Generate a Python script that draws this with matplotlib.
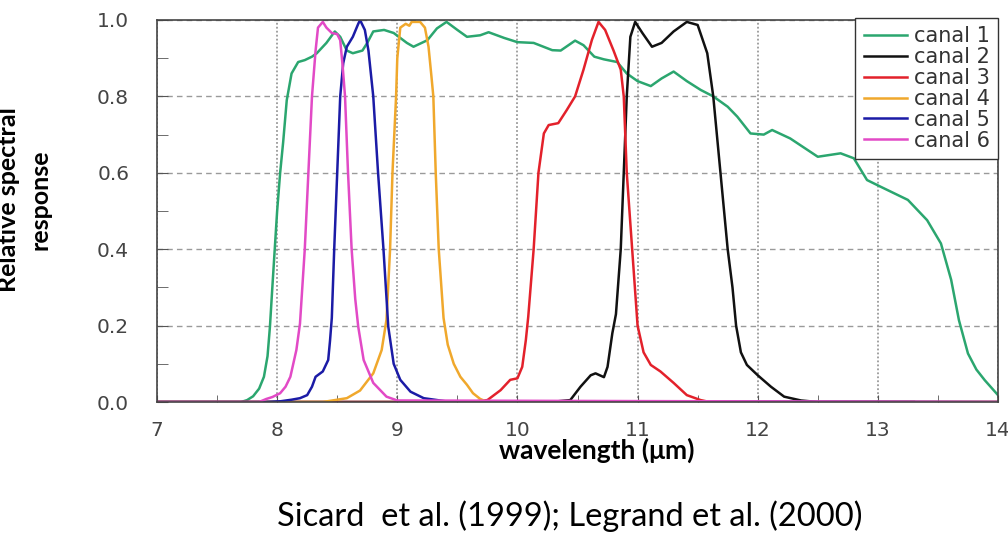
import matplotlib
matplotlib.use("Agg")
import matplotlib.pyplot as plt
from matplotlib.ticker import MultipleLocator, FormatStrFormatter

# ==========================
# DATA
# ==========================

canal1_x = [7.0, 7.70, 7.75, 7.80, 7.85, 7.89, 7.92, 7.94, 7.96, 7.98, 8.00, 8.025, 8.05,
            8.08, 8.12, 8.175, 8.23, 8.29, 8.33, 8.41, 8.48, 8.525, 8.58, 8.63, 8.71, 8.75,
            8.80, 8.89, 8.97, 9.08, 9.135, 9.25, 9.33, 9.41, 9.50, 9.58, 9.69, 9.76, 9.89,
            10.0, 10.135, 10.29, 10.36, 10.48, 10.55, 10.64, 10.72, 10.83, 10.91, 11.0,
            11.11, 11.2, 11.3, 11.41, 11.525, 11.63, 11.75, 11.83, 11.94, 12.05, 12.12,
            12.27, 12.5, 12.69, 12.8, 12.91, 13.02, 13.25, 13.41, 13.525, 13.61, 13.675,
            13.75, 13.82, 13.89, 14.0]
canal1_y = [0, 0, 0.005, 0.015, 0.035, 0.066, 0.12, 0.197, 0.30, 0.40, 0.50, 0.60, 0.68,
            0.79, 0.86, 0.89, 0.895, 0.904, 0.913, 0.94, 0.97, 0.956, 0.92, 0.913, 0.92, 0.94,
            0.97, 0.974, 0.966, 0.94, 0.93, 0.947, 0.978, 0.995, 0.974, 0.956, 0.96, 0.968, 0.953,
            0.942, 0.94, 0.921, 0.92, 0.946, 0.934, 0.904, 0.897, 0.89, 0.86, 0.84,
            0.827, 0.847, 0.865, 0.84, 0.817, 0.80, 0.773, 0.747, 0.703, 0.70, 0.712,
            0.69, 0.642, 0.651, 0.638, 0.581, 0.564, 0.529, 0.476, 0.415, 0.32, 0.214,
            0.127, 0.085, 0.057, 0.018]

canal2_x = [7.0, 10.275, 10.44, 10.525, 10.61, 10.65, 10.72, 10.75, 10.79, 10.82, 10.86,
            10.885, 10.91, 10.94, 10.98, 11.04, 11.12, 11.2, 11.3, 11.41, 11.5, 11.58, 11.63,
            11.69, 11.75, 11.79, 11.82, 11.86, 11.91, 12.0, 12.11, 12.22, 12.36, 12.5, 13.3]
canal2_y = [0, 0, 0.005, 0.04, 0.07, 0.075, 0.065, 0.092, 0.18, 0.23, 0.40,
            0.60, 0.80, 0.956, 0.995, 0.966, 0.93, 0.94, 0.97, 0.995, 0.987, 0.913, 0.80,
            0.60, 0.40, 0.30, 0.20, 0.13, 0.097, 0.07, 0.04, 0.014, 0.004, 0.0, 0.0]

canal3_x = [7.0, 9.6, 9.75, 9.86, 9.94, 10.0, 10.04, 10.07, 10.09, 10.135, 10.175, 10.22,
            10.26, 10.34, 10.41, 10.48, 10.55, 10.62, 10.675, 10.73, 10.8, 10.86, 10.885,
            10.91, 10.955, 11.0, 11.05, 11.11, 11.19, 11.3, 11.41, 11.525, 11.6, 14.0]
canal3_y = [0, 0, 0.005, 0.031, 0.058, 0.062, 0.092, 0.162, 0.223, 0.40, 0.60, 0.703,
            0.725, 0.73, 0.764, 0.80, 0.87, 0.948, 0.995, 0.974, 0.92, 0.87, 0.80,
            0.60, 0.40, 0.20, 0.13, 0.097, 0.08, 0.05, 0.018, 0.005, 0.0, 0.0]

canal4_x = [7.0, 8.38, 8.58, 8.69, 8.8, 8.87, 8.91, 8.94, 8.96, 8.99, 9.0, 9.025, 9.07,
            9.1, 9.12, 9.19, 9.23, 9.26, 9.285, 9.30, 9.32, 9.345, 9.385, 9.42, 9.47,
            9.525, 9.58, 9.63, 9.69, 9.75, 14.0]
canal4_y = [0, 0, 0.01, 0.03, 0.075, 0.136, 0.215, 0.40, 0.60, 0.80, 0.90, 0.98, 0.99,
            0.985, 0.995, 0.995, 0.98, 0.93, 0.85, 0.80, 0.60, 0.40, 0.22, 0.15, 0.10,
            0.066, 0.045, 0.023, 0.008, 0.0, 0.0]

canal5_x = [7.0, 7.9, 8.03, 8.12, 8.19, 8.25, 8.29, 8.32, 8.38, 8.425, 8.44, 8.455, 8.475,
            8.5, 8.525, 8.55, 8.58, 8.63, 8.675, 8.69, 8.73, 8.76, 8.8, 8.84, 8.885, 8.925,
            8.97, 9.025, 9.11, 9.22, 9.4, 14.0]
canal5_y = [0, 0, 0.002, 0.006, 0.01, 0.018, 0.04, 0.066, 0.08, 0.11, 0.16, 0.22, 0.40,
            0.60, 0.80, 0.887, 0.93, 0.956, 0.99, 1.0, 0.974, 0.92, 0.80, 0.60, 0.40, 0.197,
            0.10, 0.058, 0.027, 0.01, 0.002, 0.0]

canal6_x = [7.0, 7.85, 7.91, 7.96, 8.025, 8.07, 8.11, 8.16, 8.19, 8.23, 8.26, 8.29, 8.32,
            8.34, 8.38, 8.41, 8.455, 8.5, 8.525, 8.545, 8.565, 8.59, 8.62, 8.65, 8.675,
            8.72, 8.8, 8.91, 9.0, 14.0]
canal6_y = [0, 0, 0.008, 0.013, 0.023, 0.04, 0.066, 0.136, 0.205, 0.40, 0.60, 0.80, 0.92,
            0.98, 0.995, 0.98, 0.966, 0.963, 0.947, 0.88, 0.80, 0.60, 0.40, 0.27, 0.197,
            0.11, 0.05, 0.014, 0.004, 0.0]

labels = ["canal 1", "canal 2", "canal 3", "canal 4", "canal 5", "canal 6"]
colors = ["#2ba66f", "#111111", "#e3212b", "#f0a82c", "#1b1ba6", "#e24ac6"]

# ==========================
# PLOT
# ==========================

fig = plt.figure(figsize=(10.08, 5.41), dpi=100)
ax = fig.add_axes([157 / 1008, 1 - 402 / 541, 841 / 1008, 382 / 541])

xs = [canal1_x, canal2_x, canal3_x, canal4_x, canal5_x, canal6_x]
ys = [canal1_y, canal2_y, canal3_y, canal4_y, canal5_y, canal6_y]

for x, y, lab, c in zip(xs, ys, labels, colors):
    ax.plot(x, y, color=c, lw=1.8, label=lab)

ax.set_xlim(7, 14)
ax.set_ylim(0, 1)

ax.xaxis.set_major_locator(MultipleLocator(1))
ax.xaxis.set_minor_locator(MultipleLocator(0.5))
ax.yaxis.set_major_locator(MultipleLocator(0.2))
ax.yaxis.set_minor_locator(MultipleLocator(0.1))
ax.yaxis.set_major_formatter(FormatStrFormatter("%.1f"))

ax.grid(axis="y", which="major", ls=(0, (4, 3)), color="#9a9a9a", lw=1)
ax.grid(axis="x", which="major", ls=(0, (1, 1.2)), color="#9a9a9a", lw=1.3)

ax.tick_params(which="both", direction="in", color="#555555",
               labelcolor="#444444", labelsize=14.5)
ax.tick_params(axis="x", which="both", length=5, pad=14)
ax.tick_params(axis="y", which="both", length=8, pad=20)

for s in ax.spines.values():
    s.set_color("#444444")
    s.set_linewidth(1.2)

leg = ax.legend(loc="upper right", bbox_to_anchor=(1.0, 1.005), borderaxespad=0,
                fancybox=False, framealpha=1, edgecolor="#333333",
                prop={"family": "DejaVu Sans", "size": 15},
                handlelength=2.1, handletextpad=0.3, labelspacing=0.04, borderpad=0.4)
leg.get_frame().set_linewidth(1.0)
for t in leg.get_texts():
    t.set_color("#333333")

fig.text(24 / 1008, 1 - 200 / 541, "Relative spectral\nresponse", rotation=90,
         ha="center", va="center", multialignment="center", linespacing=1.45,
         family=["Lato", "DejaVu Sans"], fontweight="bold", fontsize=18)

fig.text(597 / 1008, 1 - 450 / 541, "wavelength (\u03bcm)", ha="center", va="center",
         family=["Lato", "DejaVu Sans"], fontweight="bold", fontsize=19)

fig.text(570 / 1008, 1 - 516 / 541, "Sicard  et al. (1999); Legrand et al. (2000)",
         ha="center", va="center", family=["Lato", "DejaVu Sans"], fontsize=23.5)

plt.savefig("out.png", dpi=100)
